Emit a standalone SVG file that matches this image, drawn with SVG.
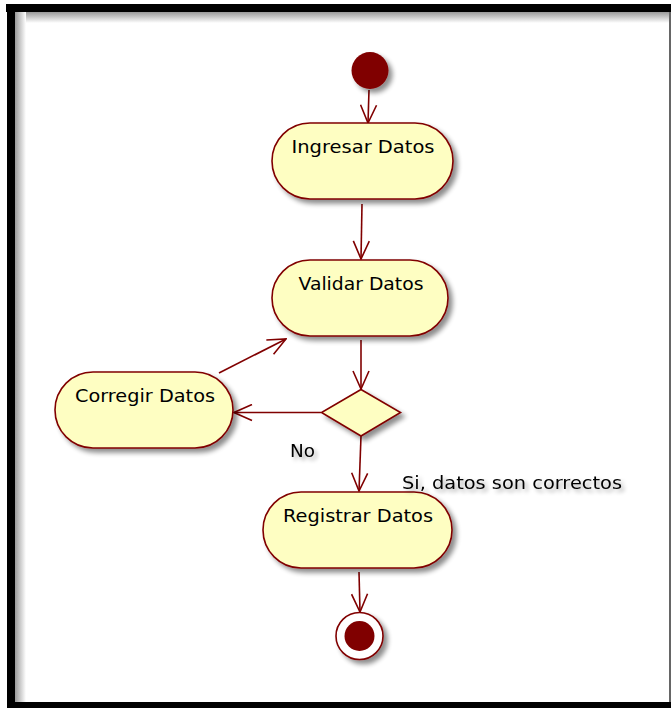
<svg xmlns="http://www.w3.org/2000/svg" width="671" height="708" viewBox="0 0 671 708">
<defs>
<style>
.node{fill:#FEFEC2;stroke:#800000;stroke-width:1.6;filter:url(#sh)}
.lbl{font-family:"DejaVu Sans","Liberation Sans",sans-serif;font-size:18px;fill:#000;text-anchor:middle}
.edge{stroke:#800000;stroke-width:1.6;fill:none;marker-end:url(#arr)}
.txs{filter:url(#tsh)}
</style>
<filter id="sh" x="-20%" y="-20%" width="150%" height="160%">
<feGaussianBlur in="SourceAlpha" stdDeviation="2.5"/>
<feOffset dx="4" dy="4" result="b"/>
<feComponentTransfer><feFuncA type="linear" slope="0.45"/></feComponentTransfer>
<feMerge><feMergeNode/><feMergeNode in="SourceGraphic"/></feMerge>
</filter>
<filter id="tsh" x="-10%" y="-30%" width="130%" height="180%">
<feGaussianBlur in="SourceAlpha" stdDeviation="2"/>
<feOffset dx="3" dy="3"/>
<feComponentTransfer><feFuncA type="linear" slope="0.35"/></feComponentTransfer>
<feMerge><feMergeNode/><feMergeNode in="SourceGraphic"/></feMerge>
</filter>
<marker id="arr" viewBox="0 0 20 18" refX="19" refY="9" markerWidth="20" markerHeight="18" markerUnits="userSpaceOnUse" orient="auto">
<path d="M1,1 L19,9 L1,17" fill="none" stroke="#800000" stroke-width="1.6"/>
</marker>
<linearGradient id="gt" x1="0" y1="0" x2="0" y2="1">
<stop offset="0" stop-color="#999"/><stop offset="1" stop-color="#fff"/>
</linearGradient>
<linearGradient id="gl" x1="0" y1="0" x2="1" y2="0">
<stop offset="0" stop-color="#999"/><stop offset="1" stop-color="#fff"/>
</linearGradient>
</defs>
<rect x="0" y="0" width="671" height="708" fill="#fff"/>
<g id="frame">
<rect x="15" y="12" width="656" height="11" fill="url(#gt)"/>
<rect x="15" y="12" width="11" height="690" fill="url(#gl)"/>
<rect x="6" y="4" width="665" height="8" fill="#000"/>
<rect x="7" y="4" width="8" height="704" fill="#000"/>
<rect x="7" y="702" width="664" height="6" fill="#000"/>
<rect x="669" y="12" width="2" height="690" fill="#666"/>
</g>
<g id="connectors">
<line class="edge" x1="369" y1="90" x2="368" y2="123"/>
<line class="edge" x1="362" y1="204" x2="361" y2="259"/>
<line class="edge" x1="361" y1="340" x2="361" y2="389"/>
<line class="edge" x1="321" y1="412.5" x2="234" y2="412.5"/>
<line class="edge" x1="219" y1="373" x2="286" y2="339"/>
<line class="edge" x1="361" y1="436" x2="359" y2="491"/>
<line class="edge" x1="359" y1="572" x2="360" y2="612"/>
</g>
<g id="start"><circle cx="370" cy="70.5" r="18.5" fill="#800000" filter="url(#sh)"/></g>
<g id="ingresar">
<rect class="node" x="272" y="123" width="181" height="76" rx="38"/>
<text class="lbl" x="363" y="153" textLength="143" lengthAdjust="spacingAndGlyphs">Ingresar Datos</text>
</g>
<g id="validar">
<rect class="node" x="272" y="260" width="176" height="76" rx="38"/>
<text class="lbl" x="361" y="290" textLength="125" lengthAdjust="spacingAndGlyphs">Validar Datos</text>
</g>
<g id="corregir">
<rect class="node" x="55" y="372" width="178" height="76" rx="38"/>
<text class="lbl" x="145" y="402" textLength="140" lengthAdjust="spacingAndGlyphs">Corregir Datos</text>
</g>
<g id="decision">
<polygon class="node" points="361,389.5 400.5,412.5 361,436 321.5,412.5"/>
</g>
<g id="registrar">
<rect class="node" x="263" y="492" width="189" height="76" rx="38"/>
<text class="lbl" x="358" y="522" textLength="150" lengthAdjust="spacingAndGlyphs">Registrar Datos</text>
</g>
<g id="end">
<circle cx="359.5" cy="636" r="23.5" fill="#fff" stroke="#800000" stroke-width="1.6" filter="url(#sh)"/>
<circle cx="359.5" cy="636" r="15" fill="#800000"/>
</g>
<g id="labels">
<text class="lbl txs" x="302.5" y="457" textLength="25" lengthAdjust="spacingAndGlyphs">No</text>
<text class="lbl txs" x="512" y="489" textLength="220" lengthAdjust="spacingAndGlyphs">Si, datos son correctos</text>
</g>
</svg>
